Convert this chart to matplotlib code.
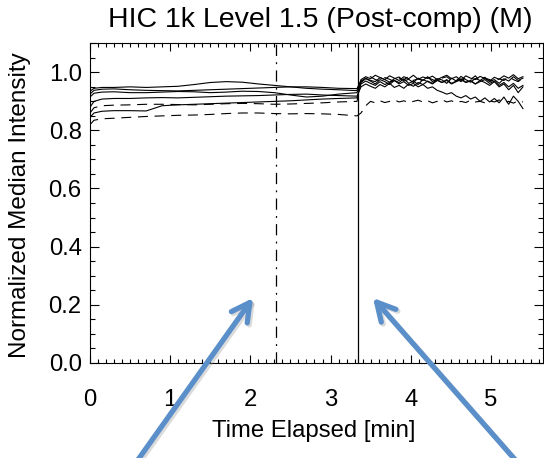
import numpy as np
import matplotlib
matplotlib.use("Agg")
import matplotlib.pyplot as plt
from matplotlib.patches import FancyArrowPatch
from matplotlib.ticker import MultipleLocator

plt.rcParams['font.family'] = ['Liberation Sans', 'DejaVu Sans']

# ---- data ----
title = "HIC 1k Level 1.5 (Post-comp) (M)"
xlabel = "Time Elapsed [min]"
ylabel = "Normalized Median Intensity"

t_pre = [0, 0.05, 0.15, 0.3, 0.5, 0.7, 0.9, 1.1, 1.3, 1.5, 1.7, 1.9, 2.1, 2.3, 2.5, 2.7, 2.9, 3.1, 3.33]
t_post = np.linspace(3.38, 5.40, 35)

s1_pre = [0.935, 0.945, 0.948, 0.948, 0.950, 0.948, 0.950, 0.952, 0.958, 0.965, 0.968, 0.966, 0.960, 0.955, 0.950, 0.945, 0.942, 0.940, 0.937]
s1_post = [0.975, 0.985, 0.978, 0.990, 0.982, 0.975, 0.988, 0.980, 0.972, 0.985, 0.978, 0.990, 0.976, 0.984, 0.979, 0.987, 0.975,
           0.983, 0.990, 0.978, 0.985, 0.972, 0.988, 0.980, 0.975, 0.986, 0.979, 0.970, 0.983, 0.976, 0.988, 0.980, 0.992, 0.978, 0.985]
s2_pre = [0.925, 0.938, 0.942, 0.943, 0.940, 0.938, 0.937, 0.936, 0.938, 0.940, 0.942, 0.944, 0.946, 0.948, 0.950, 0.950, 0.948, 0.945, 0.944]
s2_post = [0.970, 0.980, 0.972, 0.968, 0.982, 0.975, 0.966, 0.978, 0.984, 0.970, 0.976, 0.965, 0.980, 0.972, 0.985, 0.968, 0.978,
           0.974, 0.962, 0.980, 0.970, 0.986, 0.975, 0.966, 0.979, 0.972, 0.983, 0.968, 0.975, 0.962, 0.978, 0.970, 0.985, 0.972, 0.980]
s3_pre = [0.915, 0.928, 0.932, 0.933, 0.930, 0.930, 0.932, 0.934, 0.933, 0.930, 0.932, 0.935, 0.934, 0.930, 0.922, 0.915, 0.918, 0.925, 0.930]
s3_post = [0.965, 0.978, 0.970, 0.960, 0.975, 0.968, 0.958, 0.972, 0.965, 0.978, 0.962, 0.970, 0.958, 0.975, 0.968, 0.960, 0.972,
           0.965, 0.975, 0.962, 0.970, 0.978, 0.966, 0.972, 0.960, 0.968, 0.975, 0.962, 0.970, 0.955, 0.965, 0.950, 0.962, 0.945, 0.955]
s4_pre = [0.880, 0.900, 0.908, 0.910, 0.910, 0.912, 0.913, 0.912, 0.914, 0.916, 0.918, 0.919, 0.920, 0.922, 0.924, 0.925, 0.922, 0.920, 0.918]
s4_post = [0.950, 0.960, 0.952, 0.945, 0.958, 0.950, 0.962, 0.948, 0.955, 0.945, 0.960, 0.952, 0.965, 0.958, 0.970, 0.962, 0.975,
           0.965, 0.972, 0.960, 0.968, 0.975, 0.965, 0.970, 0.960, 0.972, 0.965, 0.955, 0.968, 0.950, 0.960, 0.940, 0.955, 0.930, 0.950]
s5_pre = [0.845, 0.860, 0.866, 0.868, 0.868, 0.867, 0.885, 0.888, 0.890, 0.892, 0.894, 0.896, 0.898, 0.900, 0.902, 0.905, 0.908, 0.910, 0.912]
s5_post = [0.960, 0.970, 0.962, 0.955, 0.968, 0.958, 0.965, 0.972, 0.960, 0.968, 0.955, 0.962, 0.950, 0.958, 0.945, 0.950, 0.938,
           0.932, 0.925, 0.930, 0.918, 0.912, 0.920, 0.908, 0.915, 0.900, 0.912, 0.898, 0.910, 0.895, 0.915, 0.890, 0.918, 0.900, 0.875]
d1_pre = [0.860, 0.878, 0.885, 0.887, 0.888, 0.890, 0.890, 0.889, 0.888, 0.890, 0.892, 0.893, 0.892, 0.890, 0.891, 0.893, 0.895, 0.898, 0.900]
d1_post = [0.968, 0.978, 0.985, 0.975, 0.970, 0.982, 0.976, 0.968, 0.980, 0.974, 0.986, 0.972, 0.978, 0.970, 0.982, 0.975, 0.968,
           0.980, 0.985, 0.972, 0.978, 0.968, 0.982, 0.975, 0.988, 0.970, 0.980, 0.975, 0.965, 0.978, 0.972, 0.985, 0.975, 0.968, 0.980]
d2_pre = [0.820, 0.835, 0.840, 0.842, 0.845, 0.848, 0.850, 0.852, 0.853, 0.855, 0.858, 0.860, 0.860, 0.858, 0.857, 0.858, 0.857, 0.855, 0.850]
d2_post = [0.860, 0.885, 0.900, 0.895, 0.902, 0.896, 0.900, 0.905, 0.898, 0.902, 0.896, 0.900, 0.904, 0.898, 0.902, 0.895, 0.900,
           0.906, 0.898, 0.902, 0.895, 0.900, 0.896, 0.904, 0.898, 0.900, 0.895, 0.902, 0.898, 0.905, 0.896, 0.900, 0.894, 0.902, 0.898]

solid_series = [(s1_pre, s1_post), (s2_pre, s2_post), (s3_pre, s3_post), (s4_pre, s4_post), (s5_pre, s5_post)]
dashed_series = [(d1_pre, d1_post), (d2_pre, d2_post)]

t_dashdot = 2.32
t_solid = 3.34

# ---- figure ----
W, H = 544, 458
fig = plt.figure(figsize=(W / 100, H / 100), dpi=100)
ax = fig.add_axes([90 / W, 1 - 362.7 / H, (543 - 90) / W, (362.7 - 43.3) / H])

time = np.concatenate([t_pre, t_post])
for pre, post in solid_series:
    ax.plot(time, np.concatenate([pre, post]), color='black', lw=0.8)
for pre, post in dashed_series:
    ax.plot(time, np.concatenate([pre, post]), color='black', lw=0.8, linestyle=(0, (9, 6)))

ax.axvline(t_dashdot, color='black', lw=0.9, linestyle=(0, (9, 5, 1.5, 5)))
ax.axvline(t_solid, color='black', lw=0.9)

ax.set_xlim(0, 5.65)
ax.set_ylim(0, 1.1)
ax.xaxis.set_major_locator(MultipleLocator(1))
ax.xaxis.set_minor_locator(MultipleLocator(0.1))
ax.yaxis.set_major_locator(MultipleLocator(0.2))
ax.yaxis.set_minor_locator(MultipleLocator(0.05))
ax.xaxis.set_major_formatter(matplotlib.ticker.FormatStrFormatter('%d'))
ax.yaxis.set_major_formatter(matplotlib.ticker.FormatStrFormatter('%.1f'))
ax.tick_params(axis='both', which='both', direction='in', top=True, right=True, width=0.8, colors='black')
ax.tick_params(axis='x', which='major', length=5.5, pad=19, labelsize=17.2)
ax.tick_params(axis='x', which='minor', length=2.8)
ax.tick_params(axis='y', which='major', length=6.5, pad=6, labelsize=17.2)
ax.tick_params(axis='y', which='minor', length=3.5)
for sp in ax.spines.values():
    sp.set_linewidth(0.8)

fig.text(320 / W, 1 - 27 / H, title, ha='center', va='baseline', fontsize=20.5)
fig.text(314 / W, 1 - 437 / H, xlabel, ha='center', va='baseline', fontsize=17.2)
fig.text(20 / W, 1 - 205 / H, ylabel, ha='center', va='center', rotation=90, fontsize=17.5)

# ---- blue arrows ----
blue = '#5b8fca'
arrows = [((130 / W, 1 - 471 / H), (253 / W, 1 - 298 / H)),
          ((525 / W, 1 - 471 / H), (373 / W, 1 - 298 / H))]
for tail, tip in arrows:
    sh = FancyArrowPatch((tail[0] + 2 / W, tail[1] - 2 / H), (tip[0] + 2 / W, tip[1] - 2 / H),
                         transform=fig.transFigure, arrowstyle='->,head_length=13,head_width=7',
                         mutation_scale=1, lw=3.8, color='#999999', alpha=0.35,
                         capstyle='round', joinstyle='round', shrinkA=0, shrinkB=0)
    fig.add_artist(sh)
    ar = FancyArrowPatch(tail, tip, transform=fig.transFigure,
                         arrowstyle='->,head_length=13,head_width=7', mutation_scale=1,
                         lw=3.8, color=blue, capstyle='round', joinstyle='round',
                         shrinkA=0, shrinkB=0)
    fig.add_artist(ar)

fig.savefig('out.png', dpi=100)
